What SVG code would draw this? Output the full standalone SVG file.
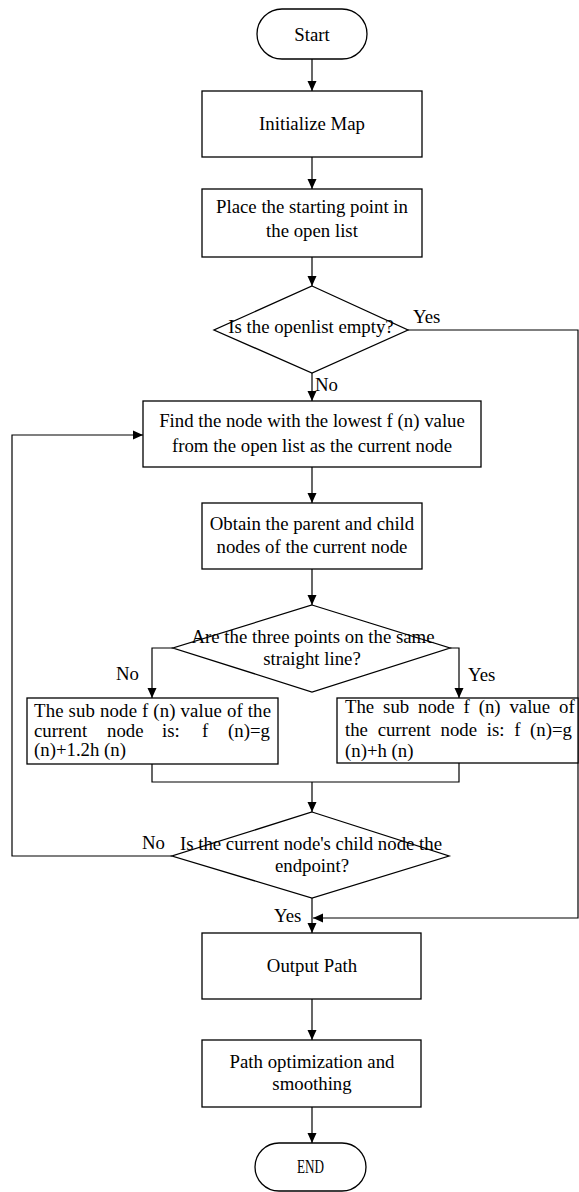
<svg xmlns="http://www.w3.org/2000/svg" width="579" height="1192" viewBox="0 0 579 1192">
<defs>
<style>
.shape{fill:#fff;stroke:#000;stroke-width:1.3}
.conn{fill:none;stroke:#000;stroke-width:1.2}
text{font-family:"Liberation Serif","Times New Roman",serif;font-size:18.8px;fill:#000}
.c{text-anchor:middle}
</style>
<marker id="arr" markerUnits="userSpaceOnUse" markerWidth="10" markerHeight="10" refX="10" refY="5" orient="auto">
<path d="M0,0.5 L10,5 L0,9.5 z" fill="#000"/>
</marker>
</defs>
<rect width="579" height="1192" fill="#fff"/>
<g id="connectors">
<path class="conn" d="M312,59 L312,91" marker-end="url(#arr)"/>
<path class="conn" d="M312,157 L312,189" marker-end="url(#arr)"/>
<path class="conn" d="M312,257 L312,286" marker-end="url(#arr)"/>
<path class="conn" d="M312,373 L312,401" marker-end="url(#arr)"/>
<path class="conn" d="M408,330 L578,330 L578,918 L313,918" marker-end="url(#arr)"/>
<path class="conn" d="M312,467 L312,503" marker-end="url(#arr)"/>
<path class="conn" d="M312,569 L312,605" marker-end="url(#arr)"/>
<path class="conn" d="M173,648 L152,648 L152,698" marker-end="url(#arr)"/>
<path class="conn" d="M450,648 L459,648 L459,698" marker-end="url(#arr)"/>
<path class="conn" d="M152,764 L152,782 L459,782 L459,763"/>
<path class="conn" d="M312,782 L312,812" marker-end="url(#arr)"/>
<path class="conn" d="M172,856 L12,856 L12,435 L143,435" marker-end="url(#arr)"/>
<path class="conn" d="M312,898 L312,933" marker-end="url(#arr)"/>
<path class="conn" d="M312,999 L312,1040" marker-end="url(#arr)"/>
<path class="conn" d="M312,1107 L312,1143" marker-end="url(#arr)"/>
<text x="413" y="323">Yes</text>
<text x="315" y="391">No</text>
<text x="116" y="680">No</text>
<text x="468" y="681">Yes</text>
<text x="142" y="849">No</text>
<text x="274" y="922">Yes</text>
</g>
<g id="start">
<rect class="shape" x="257" y="9" width="110" height="50" rx="25" ry="25"/>
<text class="c" x="312" y="41">Start</text>
</g>
<g id="init">
<rect class="shape" x="202" y="91" width="220" height="66"/>
<text class="c" x="312" y="130">Initialize Map</text>
</g>
<g id="place">
<rect class="shape" x="202" y="189" width="220" height="68"/>
<text class="c" x="312" y="213">Place the starting point in</text>
<text class="c" x="312" y="237">the open list</text>
</g>
<g id="d1">
<polygon class="shape" points="312,286 408,330 312,373 214,330"/>
<text class="c" x="311" y="333">Is the openlist empty?</text>
</g>
<g id="find">
<rect class="shape" x="143" y="401" width="338" height="66"/>
<text class="c" x="312" y="427">Find the node with the lowest f (n) value</text>
<text class="c" x="312" y="452">from the open list as the current node</text>
</g>
<g id="obtain">
<rect class="shape" x="202" y="503" width="220" height="66"/>
<text class="c" x="312" y="530">Obtain the parent and child</text>
<text class="c" x="312" y="553">nodes of the current node</text>
</g>
<g id="d2">
<polygon class="shape" points="312,605 450,648 312,692 173,648"/>
<text class="c" x="313" y="643">Are the three points on the same</text>
<text class="c" x="312" y="665">straight line?</text>
</g>
<g id="subNo">
<rect class="shape" x="27" y="698" width="251" height="66"/>
<text x="34" y="717" textLength="237" lengthAdjust="spacing">The sub node f (n) value of the</text>
<text y="737"><tspan x="34">current</tspan><tspan x="107">node</tspan><tspan x="162">is:</tspan><tspan x="202">f</tspan><tspan x="228">(n)=g</tspan></text>
<text x="34" y="756">(n)+1.2h (n)</text>
</g>
<g id="subYes">
<rect class="shape" x="337" y="698" width="241" height="65"/>
<text x="345" y="713" word-spacing="4.2">The sub node f (n) value of</text>
<text x="345" y="736" word-spacing="5">the current node is: f (n)=g</text>
<text x="345" y="757">(n)+h (n)</text>
</g>
<g id="d3">
<polygon class="shape" points="312,812 449,856 312,898 172,856"/>
<text class="c" x="311" y="850">Is the current node's child node the</text>
<text class="c" x="312" y="872">endpoint?</text>
</g>
<g id="output">
<rect class="shape" x="202" y="933" width="219" height="66"/>
<text class="c" x="312" y="972">Output Path</text>
</g>
<g id="smooth">
<rect class="shape" x="202" y="1040" width="219" height="67"/>
<text class="c" x="312" y="1068">Path optimization and</text>
<text class="c" x="312" y="1090">smoothing</text>
</g>
<g id="end">
<rect class="shape" x="255" y="1143" width="111" height="48" rx="24" ry="24"/>
<text x="297" y="1173" textLength="27" lengthAdjust="spacingAndGlyphs">END</text>
</g>
</svg>
